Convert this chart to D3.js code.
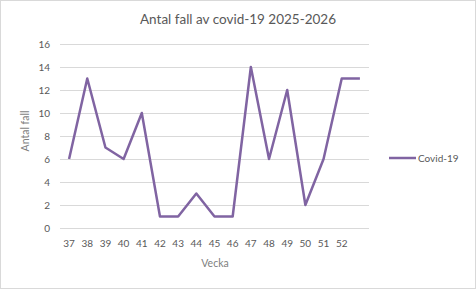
<!DOCTYPE html>
<html>
<head>
<meta charset="utf-8">
<title>covid</title>
<style>
  body { margin: 0; background: #fff; }
  text { font-family: Lato, "Open Sans", sans-serif; }
</style>
</head>
<body>
<div id="chart"></div>
<script src="https://d3js.org/d3.v7.min.js"></script>
<script>
// data
var weeks = ['37','38','39','40','41','42','43','44','45','46','47','48','49','50','51','52',''];
var cases = [6, 13, 7, 6, 10, 1, 1, 3, 1, 1, 14, 6, 12, 2, 6, 13, 13];
var yTicks = [0, 2, 4, 6, 8, 10, 12, 14, 16];

var width = 476, height = 289;
var grey = '#595959';

var svg = d3.select('#chart').append('svg')
  .attr('width', width)
  .attr('height', height);

svg.append('rect')
  .attr('x', 0.5).attr('y', 0.5)
  .attr('width', width - 1).attr('height', height - 1)
  .attr('fill', '#fff')
  .attr('stroke', '#d9d9d9');

var x = d3.scaleBand().domain(d3.range(weeks.length)).range([60, 369]);
var y = d3.scaleLinear().domain([0, 16]).range([228, 44]);

// grid
svg.selectAll('.grid')
  .data(yTicks)
  .enter()
  .append('line')
  .attr('x1', 60).attr('x2', 369)
  .attr('y1', function(d){ return y(d) + 0.5 })
  .attr('y2', function(d){ return y(d) + 0.5 })
  .attr('stroke', '#d9d9d9')
  .attr('stroke-width', 1);

// y labels
svg.selectAll('.ylab')
  .data(yTicks)
  .enter()
  .append('text')
  .attr('x', 50)
  .attr('y', function(d){ return y(d) + 4 })
  .attr('text-anchor', 'end')
  .attr('font-size', 10)
  .attr('fill', grey)
  .text(function(d){ return d });

// x labels
svg.selectAll('.xlab')
  .data(weeks)
  .enter()
  .append('text')
  .attr('x', function(d, i){ return x(i) + x.bandwidth() / 2 })
  .attr('y', 247)
  .attr('text-anchor', 'middle')
  .attr('font-size', 10)
  .attr('fill', grey)
  .text(function(d){ return d });

var line = d3.line()
  .x(function(d, i){ return x(i) + x.bandwidth() / 2 })
  .y(function(d){ return y(d) });

svg.append('path')
  .datum(cases)
  .attr('d', line)
  .attr('fill', 'none')
  .attr('stroke', '#8064a2')
  .attr('stroke-width', 2.5)
  .attr('stroke-linejoin', 'round');

// title
svg.append('text')
  .attr('x', 238).attr('y', 24)
  .attr('text-anchor', 'middle')
  .attr('font-size', 13.5)
  .attr('fill', grey)
  .text('Antal fall av covid-19 2025-2026');

// axis titles
svg.append('text')
  .attr('transform', 'translate(29,131) rotate(-90)')
  .attr('text-anchor', 'middle')
  .attr('font-size', 10.5)
  .attr('fill', '#808080')
  .text('Antal fall');

svg.append('text')
  .attr('x', 215).attr('y', 267)
  .attr('text-anchor', 'middle')
  .attr('font-size', 10.5)
  .attr('fill', '#808080')
  .text('Vecka');

// legend
svg.append('line')
  .attr('x1', 389).attr('x2', 416)
  .attr('y1', 158).attr('y2', 158)
  .attr('stroke', '#8064a2')
  .attr('stroke-width', 2.5);

svg.append('text')
  .attr('x', 418).attr('y', 161.5)
  .attr('font-size', 10)
  .attr('fill', grey)
  .text('Covid-19');
</script>
</body>
</html>
